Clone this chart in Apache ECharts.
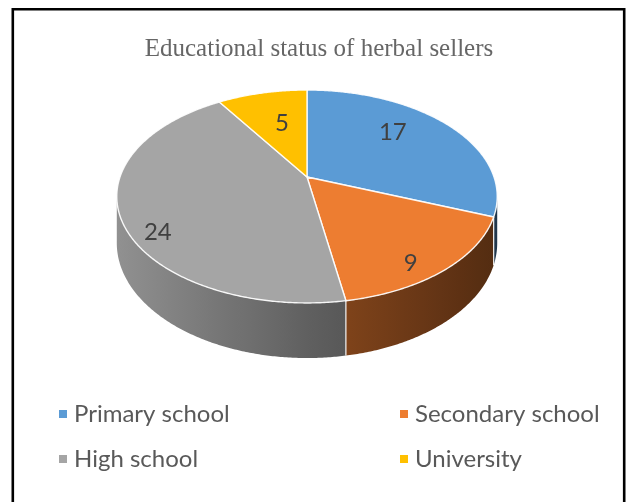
<!DOCTYPE html>
<html>
<head>
<meta charset="utf-8">
<script src="https://cdn.jsdelivr.net/npm/echarts@6/dist/echarts.min.js"></script>
<style>
html,body{margin:0;padding:0;background:#fff;}
#chart{width:627px;height:502px;}
</style>
</head>
<body>
<div id="chart"></div>
<script>
// ---- data ----
const categories = ['Primary school', 'Secondary school', 'High school', 'University'];
const values = [17, 9, 24, 5];
const colors = ['#5B9BD5', '#ED7D31', '#A5A5A5', '#FFC000'];
const titleText = 'Educational status of herbal sellers';

// ---- style (3D look, label placement) ----
const labelFrac = [0.59, 0.78, 0.81, 0.52];
const labelDy = [-12, 16, 23, -7];

const CX = 307, CY = 177, A = 187, B = 102.9, K = 0.183, H = 45;
const total = values.reduce((s, v) => s + v, 0);

function proj(theta, f, h) {
  const u = Math.sin(theta) * f, w = Math.cos(theta) * f;
  const D = 1 / (1 + K * w);
  return [CX + A * u * D, CY - B * w * D + (h || 0) * D];
}
function sliceAngles(i) {
  let s = 0;
  for (let j = 0; j < i; j++) s += values[j];
  const a0 = s / total * Math.PI * 2;
  const a1 = (s + values[i]) / total * Math.PI * 2;
  return [a0, a1];
}
function shade(hex, f) {
  const n = parseInt(hex.slice(1), 16);
  const r = Math.round(((n >> 16) & 255) * f), g = Math.round(((n >> 8) & 255) * f), b = Math.round((n & 255) * f);
  return 'rgb(' + r + ',' + g + ',' + b + ')';
}
function shadeFactor(u) { return u < 0 ? 0.58 - 0.3 * u : 0.58 - 0.23 * u; }
const FRONT0 = Math.acos(-K), FRONT1 = 2 * Math.PI - Math.acos(-K);

function sideGradient(hex) {
  const stops = [];
  for (let k = 0; k <= 20; k++) {
    const u = -1 + k / 10;
    stops.push({ offset: k / 20, color: shade(hex, shadeFactor(u)) });
  }
  return { type: 'linear', x: CX - A * 1.02, y: 0, x2: CX + A * 1.02, y2: 0, global: true, colorStops: stops };
}

function renderSide(params, api) {
  const i = params.dataIndex;
  const [a0, a1] = sliceAngles(i);
  const s = Math.max(a0, FRONT0), e = Math.min(a1, FRONT1);
  const children = [];
  if (e > s) {
    const n = Math.max(2, Math.ceil((e - s) / (Math.PI / 360)));
    const topArc = [], botArc = [];
    for (let k = 0; k <= n; k++) {
      const t = s + (e - s) * k / n;
      topArc.push(proj(t, 1, 0));
      botArc.push(proj(t, 1, H));
    }
    const pts = topArc.concat(botArc.reverse());
    children.push({ type: 'polygon', shape: { points: pts }, style: { fill: sideGradient(colors[i]) } });
    if (a0 >= FRONT0 && a0 <= FRONT1) {
      const p = proj(a0, 1, 0), q = proj(a0, 1, H);
      children.push({ type: 'line', shape: { x1: p[0], y1: p[1], x2: q[0], y2: q[1] },
        style: { stroke: 'rgba(255,255,255,0.85)', lineWidth: 1.3 } });
    }
  }
  return { type: 'group', children: children };
}

function renderTop(params, api) {
  const i = params.dataIndex;
  const [a0, a1] = sliceAngles(i);
  const n = Math.max(2, Math.ceil((a1 - a0) / (Math.PI / 360)));
  const pts = [[CX, CY]];
  for (let k = 0; k <= n; k++) pts.push(proj(a0 + (a1 - a0) * k / n, 1, 0));
  const mid = (a0 + a1) / 2;
  const lp = proj(mid, labelFrac[i], 0);
  return {
    type: 'group',
    children: [
      { type: 'polygon', shape: { points: pts }, style: { fill: colors[i], stroke: 'rgba(255,255,255,0.9)', lineWidth: 1.4, lineJoin: 'round' } },
      { type: 'text', x: lp[0], y: lp[1] + labelDy[i], z2: 10,
        style: { text: String(api.value(0)), fill: '#404040', fontSize: 24, fontFamily: 'Lato', align: 'center', verticalAlign: 'middle' } }
    ]
  };
}

const seriesData = values.map((v, i) => ({ name: categories[i], value: v, itemStyle: { color: colors[i] } }));

const legendText = { fontFamily: 'Lato', fontSize: 24, color: '#595959', padding: [0, 0, 0, 2] };
const chart = echarts.init(document.getElementById('chart'), null, { renderer: 'canvas' });
chart.setOption({
  animation: false,
  backgroundColor: '#ffffff',
  title: {
    text: titleText,
    left: 314, top: 32, textAlign: 'center',
    textStyle: { fontFamily: 'Liberation Serif', fontSize: 25, fontWeight: 'normal', color: '#666666' }
  },
  legend: [
    { data: [categories[0], categories[2]], orient: 'vertical', left: 54, top: 397, itemWidth: 8, itemHeight: 8, itemGap: 21, icon: 'rect',
      selectedMode: false, textStyle: legendText },
    { data: [categories[1], categories[3]], orient: 'vertical', left: 395, top: 397, itemWidth: 8, itemHeight: 8, itemGap: 21, icon: 'rect',
      selectedMode: false, textStyle: legendText }
  ],
  graphic: [
    { type: 'rect', shape: { x: 12.8, y: 9.2, width: 611.4, height: 520 }, style: { fill: 'none', stroke: '#000', lineWidth: 2.6 }, silent: true, z: 100 }
  ],
  series: [
    { type: 'pie', radius: [0, 0], center: [CX, CY], silent: true, label: { show: false }, labelLine: { show: false }, data: seriesData, z: 0 },
    { type: 'custom', name: 'side', coordinateSystem: 'none', renderItem: renderSide, data: values, z: 1, silent: true },
    { type: 'custom', name: 'top', coordinateSystem: 'none', renderItem: renderTop, data: values, z: 2, silent: true }
  ]
});
</script>
</body>
</html>
